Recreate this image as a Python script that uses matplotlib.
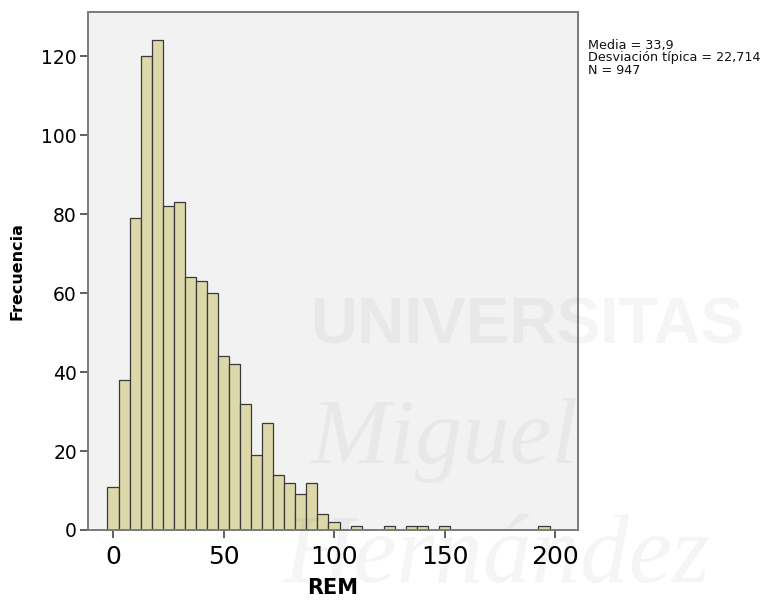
import matplotlib
matplotlib.use("Agg")
import matplotlib.pyplot as plt
import numpy as np

# REM histogram, bins of width 5 centred on multiples of 5
bin_centers = [0, 5, 10, 15, 20, 25, 30, 35, 40, 45, 50, 55, 60, 65, 70, 75,
               80, 85, 90, 95, 100, 110, 125, 135, 140, 150, 195]
counts = [11, 38, 79, 120, 124, 82, 83, 64, 63, 60, 44, 42, 32, 19, 27, 14,
          12, 9, 12, 4, 2, 1, 1, 1, 1, 1, 1]
bin_width = 5
xticks = [0, 50, 100, 150, 200]
yticks = [0, 20, 40, 60, 80, 100, 120]
stats = ["Media = 33,9", "Desviación típica = 22,714", "N = 947"]

fig = plt.figure(figsize=(7.66, 6.13), dpi=100)
ax = fig.add_axes([0.1149, 0.1354, 0.6397, 0.845])
ax.set_facecolor('#f2f2f2')

ax.bar(bin_centers, counts, width=bin_width, color='#dcd8a9',
       edgecolor='#3a3a3a', linewidth=0.9, zorder=2)

ax.set_xlim(-11.3, 210.4)
ax.set_ylim(0, 131.2)
ax.set_xticks(xticks)
ax.set_yticks(yticks)
ax.tick_params(axis='x', labelsize=18, length=6, width=1.2, color='#444444', pad=5)
ax.tick_params(axis='y', labelsize=13.5, length=6, width=1.2, color='#444444', pad=2)
for s in ax.spines.values():
    s.set_color('#7a7a7a')
    s.set_linewidth(1.4)

ax.set_xlabel('REM', fontsize=15, fontweight='bold', labelpad=6)
ax.set_ylabel('Frecuencia', fontsize=11.5, fontweight='bold', labelpad=12)

fig.text(0.767, 0.937, "\n".join(stats), fontsize=9.2, va='top', ha='left',
         linespacing=0.98, color='#111111')

# faint university watermark across the figure
wm = dict(color='black', alpha=0.04, zorder=10)
fig.text(0.405, 0.44, 'UNIVERSITAS', fontsize=47, fontweight='bold',
         family='Liberation Sans', ha='left', va='baseline', **wm)
fig.text(0.405, 0.245, 'Miguel', fontsize=68, style='italic',
         family='Liberation Serif', ha='left', va='baseline', **wm)
fig.text(0.37, 0.05, 'Hernández', fontsize=70, style='italic',
         family='Liberation Serif', ha='left', va='baseline', **wm)

fig.savefig('out.png', dpi=100, facecolor='white')
